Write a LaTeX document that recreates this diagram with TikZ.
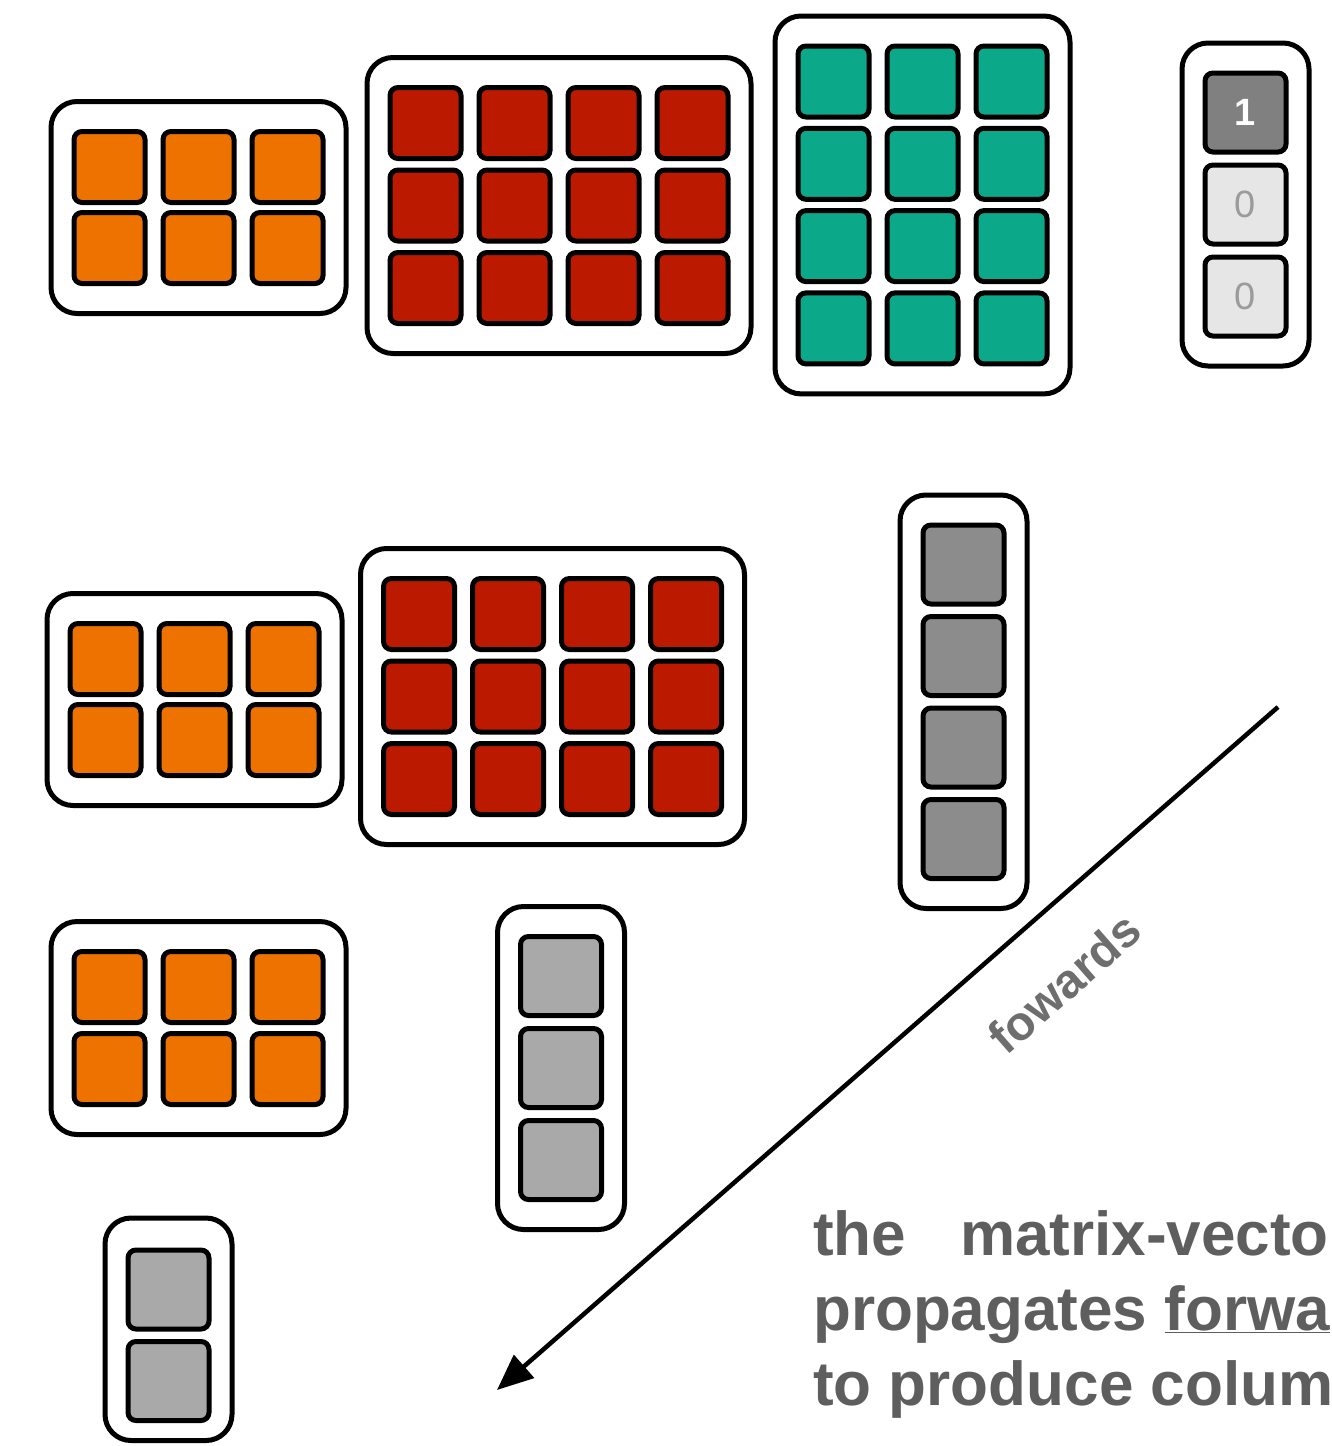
\documentclass[tikz,border=0pt]{standalone}
\usepackage{fontspec}
\setmainfont{Liberation Sans}
\usetikzlibrary{fit,positioning,arrows.meta}

\definecolor{orng}{RGB}{238,114,0}
\definecolor{rd}{RGB}{187,26,0}
\definecolor{grn}{RGB}{11,168,138}
\definecolor{dkgray}{RGB}{128,128,128}
\definecolor{midgray}{RGB}{140,140,140}
\definecolor{ltgray}{RGB}{169,169,169}
\definecolor{pale}{RGB}{230,230,230}
\definecolor{zerogray}{RGB}{155,155,155}
\definecolor{txtgray}{RGB}{94,94,94}
\definecolor{fwgray}{RGB}{110,110,110}

\begin{document}
\begin{tikzpicture}[x=1pt, y=-1pt]
      \tikzstyle{cell}=[rectangle, rounded corners=8pt, line width=5pt, draw=black, minimum width=71pt, minimum height=71pt, inner sep=0pt]
      \tikzstyle{vcell}=[cell, minimum width=81pt, minimum height=79pt, font=\fontsize{38pt}{38pt}\selectfont]
      \tikzstyle{box}=[rectangle, rounded corners=26pt, line width=5pt, draw=black, inner xsep=20.5pt, inner ysep=27.5pt]
      \tikzstyle{connect}=[-{Triangle[length=36pt,width=30pt]}, line width=4.5pt]
      \tikzstyle{lbl}=[text=txtgray, font=\fontsize{62pt}{75pt}\selectfont\bfseries, anchor=base west, inner sep=0pt]

      \useasboundingbox (0,0) rectangle (1332,1446);

      % top row: two matrices, weights and input vector
      \foreach \i in {1,2,3}
        \foreach \j in {1,2}
          \node[cell, fill=orng] (a\i\j) at ({109.5+89*(\i-1)}, {167+81*(\j-1)}) {};
      \foreach \i in {1,...,4}
        \foreach \j in {1,2,3}
          \node[cell, fill=rd] (b\i\j) at ({425.5+89*(\i-1)}, {123+82.5*(\j-1)}) {};
      \foreach \i in {1,2,3}
        \foreach \j in {1,...,4}
          \node[cell, fill=grn] (c\i\j) at ({833.5+89*(\i-1)}, {81.5+82.3*(\j-1)}) {};

      \node[vcell, fill=dkgray, text=white] (d1) at (1245.5,112.5) {\bfseries 1};
      \node[vcell, fill=pale, text=zerogray] (d2) [below=8pt of d1] {0};
      \node[vcell, fill=pale, text=zerogray] (d3) [below=8pt of d2] {0};

      \node[box, fit=(a11) (a32)] (A) {};
      \node[box, fit=(b11) (b43)] (B) {};
      \node[box, fit=(c11) (c34)] (C) {};
      \node[box, fit=(d1) (d3)] (D) {};

      % middle row
      \foreach \i in {1,2,3}
        \foreach \j in {1,2}
          \node[cell, fill=orng] (e\i\j) at ({105.5+89*(\i-1)}, {659+81*(\j-1)}) {};
      \foreach \i in {1,...,4}
        \foreach \j in {1,2,3}
          \node[cell, fill=rd] (f\i\j) at ({419+89*(\i-1)}, {614+82.5*(\j-1)}) {};

      \node[vcell, fill=midgray] (g1) at (963.5,564.5) {};
      \node[vcell, fill=midgray] (g2) [below=7.5pt of g1] {};
      \node[vcell, fill=midgray] (g3) [below=7.5pt of g2] {};
      \node[vcell, fill=midgray] (g4) [below=7.5pt of g3] {};

      \node[box, fit=(e11) (e32)] (E) {};
      \node[box, fit=(f11) (f43)] (F) {};
      \node[box, fit=(g1) (g4)] (G) {};

      % lower rows
      \foreach \i in {1,2,3}
        \foreach \j in {1,2}
          \node[cell, fill=orng] (h\i\j) at ({109.5+89*(\i-1)}, {987+82*(\j-1)}) {};

      \node[vcell, fill=ltgray] (i1) at (561,976) {};
      \node[vcell, fill=ltgray] (i2) [below=8pt of i1] {};
      \node[vcell, fill=ltgray] (i3) [below=8pt of i2] {};

      \node[vcell, fill=ltgray] (j1) at (168.5,1289.5) {};
      \node[vcell, fill=ltgray] (j2) [below=7.5pt of j1] {};

      \node[box, fit=(h11) (h32)] (H) {};
      \node[box, fit=(i1) (i3)] (I) {};
      \node[box, fit=(j1) (j2), inner ysep=23.5pt, yshift=6pt] (J) {};

      % direction of the pass
      \coordinate (fwstart) at (1278,707);
      \coordinate (fwend) at (497,1390);
      \draw[connect] (fwstart) -- (fwend);
      \node[text=fwgray, font=\fontsize{48pt}{48pt}\selectfont\bfseries, rotate=41.2] (fw) at (1064,983) {fowards};

      \node[lbl] (l1) at (813,1255) {the\hspace{54pt}matrix-vecto};
      \node[lbl] (l2) at (813,1330) {propagates \underline{forwa}};
      \node[lbl] (l3) at (813,1405) {to produce colum};
\end{tikzpicture}
\end{document}
